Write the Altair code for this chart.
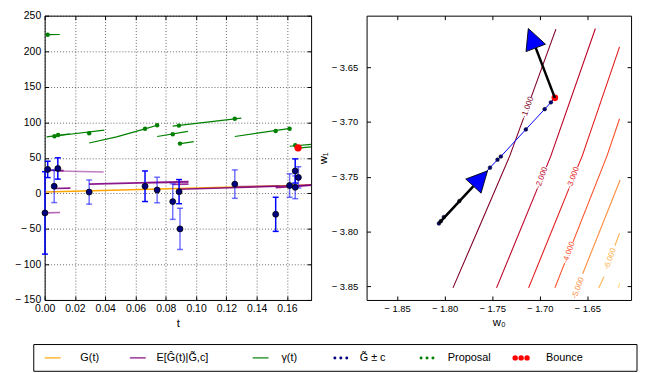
import math
import altair as alt
import pandas as pd

FONT = "Liberation Sans"

# ----------------------------- left panel data -----------------------------
# noisy gradient estimates G~ (with half-width c of the error bar)
obs_t = [0.0002, 0.0020, 0.0063, 0.0087, 0.0294, 0.0663, 0.0743, 0.0846,
         0.0888, 0.0894, 0.1256, 0.1526, 0.1618, 0.1655, 0.1655, 0.1676]
obs_v = [-27.5, 33.7, 10.0, 35.0, 1.8, 10.0, 4.7, -11.6,
         2.4, -50.0, 13.0, -29.5, 11.0, 31.5, 8.5, 22.4]
obs_c = [58.0, 11.5, 23.0, 15.0, 17.0, 21.5, 18.0, 25.0,
         17.0, 29.0, 20.0, 24.0, 16.5, 17.0, 16.0, 15.0]
obs_alpha = [1.0, 1.0, 0.55, 1.0, 0.55, 1.0, 0.55, 0.55,
             1.0, 0.55, 0.55, 1.0, 0.55, 1.0, 0.55, 0.55]

# true gradient G(t)
true_t = [0.0, 0.044, 0.088, 0.132, 0.176]
true_v = [1.8, 4.3, 6.8, 9.3, 11.8]

# posterior means E[G^(t)|G~,c], one straight piece each
post_t0 = [0.0000, 0.0020, 0.0087, 0.0063, 0.0294, 0.0663, 0.0846, 0.0888, 0.1256, 0.1526, 0.1618]
post_t1 = [0.0102, 0.0125, 0.0390, 0.0170, 0.0950, 0.0950, 0.0950, 0.1760, 0.1550, 0.1760, 0.1760]
post_v0 = [-27.5, 32.5, 31.5, 6.8, 13.0, 15.0, 12.5, 5.8, 9.5, 7.8, 10.0]
post_v1 = [-27.0, 32.0, 30.0, 7.4, 16.5, 15.5, 13.0, 11.3, 10.5, 11.5, 12.0]
post_alpha = [0.6, 0.9, 0.5, 0.9, 0.9, 0.5, 0.8, 0.9, 0.5, 0.9, 0.6]

# bound gamma(t), piecewise
gam_piece = [0, 0, 1, 1, 2, 2, 3, 3, 3, 3, 4, 4, 5, 5, 6, 6, 7, 7, 8, 8, 9, 9]
gam_t = [0.0020, 0.0100, 0.0013, 0.0166, 0.0083, 0.0394, 0.0294, 0.0475, 0.0663, 0.0743,
         0.0743, 0.0946, 0.0846, 0.1299, 0.0887, 0.0985, 0.1256, 0.1622, 0.1618, 0.1760,
         0.1655, 0.1760]
gam_v = [223.2, 223.5, 79.5, 83.6, 81.0, 89.0, 70.8, 79.5, 90.8, 95.8,
         80.0, 87.2, 94.5, 105.8, 69.5, 72.7, 80.0, 91.3, 66.3, 69.0,
         63.2, 65.4]

# proposals and the accepted bounce
prop_t = [0.0020, 0.0065, 0.0089, 0.0294, 0.0663, 0.0743, 0.0846, 0.0887, 0.0894,
          0.1256, 0.1526, 0.1618, 0.1655]
prop_v = [223.2, 80.4, 82.2, 84.5, 90.8, 95.8, 83.1, 95.3, 70.0,
          104.9, 87.7, 90.8, 67.7]
bounce_t = [0.1674]
bounce_v = [64.0]

# ----------------------------- right panel data ----------------------------
contour_levels = [-1, -1, -2, -2, -3, -3, -4, -4, -5, -6, -6, -7]
contour_w0 = [
    [-1.7912, -1.7620, -1.7315, -1.7170],
    [-1.7089, -1.6830],
    [-1.7454, -1.7024],
    [-1.6931, -1.6883, -1.6415],
    [-1.7117, -1.6692],
    [-1.6602, -1.6553, -1.6161],
    [-1.6841, -1.6738],
    [-1.6650, -1.6293, -1.6161],
    [-1.6548, -1.6155],
    [-1.6380, -1.6324],
    [-1.6210, -1.6161],
    [-1.6172, -1.6161],
]
contour_w1 = [
    [-3.8514, -3.7926, -3.7309, -3.6965],
    [-3.6771, -3.6153],
    [-3.8514, -3.7606],
    [-3.7412, -3.7309, -3.6147],
    [-3.8514, -3.7606],
    [-3.7412, -3.7309, -3.6315],
    [-3.8514, -3.8288],
    [-3.8094, -3.7309, -3.6971],
    [-3.8385, -3.7529],
    [-3.8514, -3.8411],
    [-3.8129, -3.8014],
    [-3.8514, -3.8470],
]
label_levels = [-1, -2, -3, -4, -5, -6]
label_w0 = [-1.7125, -1.6979, -1.6647, -1.6691, -1.6595, -1.6259]
label_w1 = [-3.6868, -3.7510, -3.7509, -3.8191, -3.8516, -3.8250]
level_list = [-1, -2, -3, -4, -5, -6, -7]
level_colors = ["#800026", "#bd0026", "#e31a1c", "#fc4e2a", "#fd8d3c", "#feb24c", "#fed976"]

traj_w0 = [-1.8060, -1.8040, -1.8008, -1.7845, -1.7523, -1.7444, -1.7409,
           -1.7146, -1.6948, -1.6883, -1.6841]
traj_w1 = [-3.7926, -3.7905, -3.7867, -3.7721, -3.7417, -3.7344, -3.7315,
           -3.7068, -3.6883, -3.6821, -3.6780]
rbounce_w0 = [-1.6841]
rbounce_w1 = [-3.6780]
arrow_w0_from = [-1.8060, -1.6841]
arrow_w1_from = [-3.7926, -3.6780]
arrow_w0_to = [-1.7697, -1.7042]
arrow_w1_to = [-3.7585, -3.6324]

# ----------------------------- legend ---------------------------------------
leg_labels = ["G(t)", "E[Ĝ(t)|G̃,c]", "γ(t)", "G̃ ± c", "Proposal", "Bounce"]
leg_colors = ["#ffa500", "#800080", "#008000", "#000080", "#008000", "#ff0000"]
leg_kind = ["line", "line", "line", "dots", "dots", "bigdots"]

# ----------------------------- layout / style -------------------------------
W_L, W_R, H = 269, 267, 287
T_DOM = [0.0, 0.176]
V_DOM = [-150, 250]
W0_DOM = [-1.882, -1.604]
W1_DOM = [-3.8624, -3.603]

# legend box geometry (pixels inside the box); the box starts LEG_SHIFT px left of the panels
LEG_W, LEG_H, LEG_SHIFT = 609, 27, 11
LEG_HANDLE_X = [11, 97, 221, 302, 389, 484]   # left end of each handle
LEG_HANDLE_LEN = 16
LEG_TEXT_X = [47, 124, 250, 329, 418, 517]

MINUS_INT = "datum.value < 0 ? '\u2212 ' + format(-datum.value, 'd') : format(datum.value, 'd')"
MINUS_2F = "datum.value < 0 ? '\u2212 ' + format(-datum.value, '.2f') : format(datum.value, '.2f')"

TICKS = dict(domain=False, tickSize=4, offset=-4, tickColor="black", tickWidth=1)


def ax_main(orient, values, expr, title, grid, size=10.5, pad=4):
    return alt.Axis(orient=orient, values=values, labelExpr=expr, title=title, grid=grid,
                    gridColor="black", gridDash=[1, 2], gridOpacity=0.75, gridWidth=0.8,
                    titlePadding=3, labelOverlap=False, labelFlush=False,
                    labelFont=FONT, labelFontSize=size, labelColor="black", labelPadding=pad,
                    titleFont=FONT, titleFontSize=11.5, titleFontWeight="normal",
                    titleColor="black", **TICKS)


def ax_side(orient, values):
    return alt.Axis(orient=orient, values=values, labels=False, title=None, grid=False, **TICKS)


t_vals = [0.0, 0.02, 0.04, 0.06, 0.08, 0.10, 0.12, 0.14, 0.16]
v_vals = [-150, -100, -50, 0, 50, 100, 150, 200, 250]
w0_vals = [-1.85, -1.80, -1.75, -1.70, -1.65]
w1_vals = [-3.85, -3.80, -3.75, -3.70, -3.65]

tsc = alt.Scale(domain=T_DOM, nice=False, zero=False)
vsc = alt.Scale(domain=V_DOM, nice=False, zero=False)
w0sc = alt.Scale(domain=W0_DOM, nice=False, zero=False)
w1sc = alt.Scale(domain=W1_DOM, nice=False, zero=False)

# ----------------------------- left panel -----------------------------------
obs_df = pd.DataFrame({"t": obs_t, "v": obs_v, "a": obs_alpha,
                       "lo": [v - c for v, c in zip(obs_v, obs_c)],
                       "hi": [v + c for v, c in zip(obs_v, obs_c)]})
caps_df = pd.DataFrame({"t": obs_t + obs_t, "y": list(obs_df["lo"]) + list(obs_df["hi"]),
                        "a": obs_alpha + obs_alpha})
true_df = pd.DataFrame({"t": true_t, "v": true_v})
post_rows = []
for i in range(len(post_t0)):
    post_rows.append({"p": i, "k": 0, "t": post_t0[i], "v": post_v0[i], "a": post_alpha[i]})
    post_rows.append({"p": i, "k": 1, "t": post_t1[i], "v": post_v1[i], "a": post_alpha[i]})
post_df = pd.DataFrame(post_rows)
gam_df = pd.DataFrame({"p": gam_piece, "k": list(range(len(gam_t))), "t": gam_t, "v": gam_v})
prop_df = pd.DataFrame({"t": prop_t, "v": prop_v})
bounce_df = pd.DataFrame({"t": bounce_t, "v": bounce_v})

X0 = alt.X("t:Q", scale=tsc, axis=None)
Y0 = alt.Y("v:Q", scale=vsc, axis=None)

l_true = alt.Chart(true_df).mark_line(color="#ffa500", strokeWidth=1.5, clip=True).encode(
    x=alt.X("t:Q", scale=tsc, axis=ax_side("top", t_vals)),
    y=alt.Y("v:Q", scale=vsc, axis=ax_side("right", v_vals)))
l_post = alt.Chart(post_df).mark_line(color="#800080", strokeWidth=1.6, clip=True).encode(
    x=X0, y=Y0, detail="p:N", order="k:Q", opacity=alt.Opacity("a:Q", scale=None))
l_gam = alt.Chart(gam_df).mark_line(color="#008000", strokeWidth=1.2, clip=True).encode(
    x=X0, y=Y0, detail="p:N", order="k:Q")
l_prop = alt.Chart(prop_df).mark_circle(color="#008000", size=20, opacity=1).encode(x=X0, y=Y0)
l_err = alt.Chart(obs_df).mark_rule(color="#0000ff", strokeWidth=1.5).encode(
    x=X0, y=alt.Y("lo:Q", scale=vsc, axis=None), y2="hi:Q", opacity=alt.Opacity("a:Q", scale=None))
l_caps = alt.Chart(caps_df).mark_tick(color="#0000ff", orient="horizontal", size=6, thickness=1.5).encode(
    x=X0, y=alt.Y("y:Q", scale=vsc, axis=None), opacity=alt.Opacity("a:Q", scale=None))
l_obs = alt.Chart(obs_df).mark_circle(size=36, fill="#000080", stroke="black", strokeWidth=0.8,
                                      opacity=1).encode(
    x=alt.X("t:Q", scale=tsc, axis=ax_main("bottom", t_vals, "format(datum.value, '.2f')", "t", True)),
    y=alt.Y("v:Q", scale=vsc, axis=ax_main("left", v_vals, MINUS_INT, None, True)))
l_bounce = alt.Chart(bounce_df).mark_circle(color="#ff0000", size=55, opacity=1).encode(x=X0, y=Y0)

left = alt.layer(l_true, l_post, l_gam, l_prop, l_err, l_caps, l_obs, l_bounce).properties(
    width=W_L, height=H, view=alt.ViewBackground(stroke="black", strokeWidth=1))

# ----------------------------- right panel ----------------------------------
c_rows = []
for i, lvl in enumerate(contour_levels):
    for k, (a, b) in enumerate(zip(contour_w0[i], contour_w1[i])):
        c_rows.append({"piece": i, "k": k, "lvl": lvl, "w0": a, "w1": b})
cont_df = pd.DataFrame(c_rows)
lab_df = pd.DataFrame({"lvl": label_levels, "w0": label_w0, "w1": label_w1,
                       "txt": [f"{l:.3f}" for l in label_levels]})
traj_df = pd.DataFrame({"k": list(range(len(traj_w0))), "w0": traj_w0, "w1": traj_w1})
dots_df = traj_df.iloc[:-1]
rb_df = pd.DataFrame({"w0": rbounce_w0, "w1": rbounce_w1})


def to_px(a, b):
    return ((a - W0_DOM[0]) / (W0_DOM[1] - W0_DOM[0]) * W_R,
            (W1_DOM[1] - b) / (W1_DOM[1] - W1_DOM[0]) * H)


def from_px(px, py):
    return (W0_DOM[0] + px / W_R * (W0_DOM[1] - W0_DOM[0]),
            W1_DOM[1] - py / H * (W1_DOM[1] - W1_DOM[0]))


HEAD = 21
head_rows = []
for i in range(len(arrow_w0_from)):
    x0, y0 = to_px(arrow_w0_from[i], arrow_w1_from[i])
    x1, y1 = to_px(arrow_w0_to[i], arrow_w1_to[i])
    L = math.hypot(x1 - x0, y1 - y0)
    ux, uy = (x1 - x0) / L, (y1 - y0) / L
    cw0, cw1 = from_px(x1 + ux * HEAD / 2, y1 + uy * HEAD / 2)
    head_rows.append({"w0": cw0, "w1": cw1, "ang": math.degrees(math.atan2(ux, -uy)) % 360})
head_df = pd.DataFrame(head_rows)
shaft_df = pd.DataFrame({"w0": arrow_w0_from, "w1": arrow_w1_from, "w0b": arrow_w0_to, "w1b": arrow_w1_to})

XR = alt.X("w0:Q", scale=w0sc, axis=None)
YR = alt.Y("w1:Q", scale=w1sc, axis=None)
lvl_color = alt.Color("lvl:O", scale=alt.Scale(domain=level_list, range=level_colors), legend=None)

r_cont = alt.Chart(cont_df).mark_line(strokeWidth=1.1, clip=True).encode(
    x=alt.X("w0:Q", scale=w0sc, axis=ax_side("top", w0_vals)),
    y=alt.Y("w1:Q", scale=w1sc, axis=ax_side("right", w1_vals)),
    detail="piece:N", order="k:Q", color=lvl_color)
r_lab = alt.Chart(lab_df).mark_text(angle=290, font=FONT, fontSize=8).encode(
    x=XR, y=YR, text="txt:N", color=lvl_color)
r_traj = alt.Chart(traj_df).mark_line(color="#0000ff", strokeWidth=1).encode(x=XR, y=YR, order="k:Q")
r_dots = alt.Chart(dots_df).mark_circle(size=14, fill="#000080", stroke="black", strokeWidth=0.5,
                                        opacity=1).encode(
    x=alt.X("w0:Q", scale=w0sc, axis=ax_main("bottom", w0_vals, MINUS_2F, "w\u2080", False, 9.5, 4)),
    y=alt.Y("w1:Q", scale=w1sc, axis=ax_main("left", w1_vals, MINUS_2F, "w\u2081", False, 9.5, 9)))
r_rb = alt.Chart(rb_df).mark_circle(color="#ff0000", size=45, opacity=1).encode(x=XR, y=YR)
r_shaft = alt.Chart(shaft_df).mark_rule(color="black", strokeWidth=2.5).encode(
    x=XR, y=YR, x2="w0b:Q", y2="w1b:Q")
r_head = alt.Chart(head_df).mark_point(shape="M0,-1L1,1L-1,1Z", filled=True, fill="#0000ff",
                                       stroke="black", strokeWidth=0.8, size=HEAD * HEAD,
                                       opacity=1).encode(
    x=XR, y=YR, angle=alt.Angle("ang:Q", scale=None))

right = alt.layer(r_cont, r_lab, r_traj, r_dots, r_rb, r_shaft, r_head).properties(
    width=W_R, height=H, view=alt.ViewBackground(stroke="black", strokeWidth=1))

# ----------------------------- legend box ------------------------------------
line_rows, dot_rows, text_rows = [], [], []
for i, (lab, col, kind) in enumerate(zip(leg_labels, leg_colors, leg_kind)):
    x0 = LEG_HANDLE_X[i]
    text_rows.append({"x": LEG_TEXT_X[i], "y": LEG_H / 2, "txt": lab})
    if kind == "line":
        line_rows.append({"x": x0, "x2": x0 + LEG_HANDLE_LEN, "y": LEG_H / 2, "c": col})
    else:
        for j in range(3):
            dot_rows.append({"x": x0 + 2 + j * (LEG_HANDLE_LEN - 4) / 2, "y": LEG_H / 2, "c": col,
                             "s": 30 if kind == "bigdots" else 9})
box_df = pd.DataFrame({"x": [0], "x2": [LEG_W], "y": [0], "y2": [LEG_H]})
lx = alt.Scale(domain=[LEG_SHIFT, LEG_W], nice=False, zero=False)
ly = alt.Scale(domain=[LEG_H, 0], nice=False, zero=False)
g_box = alt.Chart(box_df).mark_rect(fill="white", stroke="black", strokeWidth=1).encode(
    x=alt.X("x:Q", scale=lx, axis=None), x2="x2:Q",
    y=alt.Y("y:Q", scale=ly, axis=None), y2="y2:Q")
g_lines = alt.Chart(pd.DataFrame(line_rows)).mark_rule(strokeWidth=1.2).encode(
    x=alt.X("x:Q", scale=lx, axis=None), x2="x2:Q",
    y=alt.Y("y:Q", scale=ly, axis=None), color=alt.Color("c:N", scale=None))
g_dots = alt.Chart(pd.DataFrame(dot_rows)).mark_circle(opacity=1).encode(
    x=alt.X("x:Q", scale=lx, axis=None), y=alt.Y("y:Q", scale=ly, axis=None),
    color=alt.Color("c:N", scale=None), size=alt.Size("s:Q", scale=None))
g_text = alt.Chart(pd.DataFrame(text_rows)).mark_text(
    align="left", baseline="middle", font=FONT, fontSize=11, color="black").encode(
    x=alt.X("x:Q", scale=lx, axis=None), y=alt.Y("y:Q", scale=ly, axis=None), text="txt:N")
legend_chart = alt.layer(g_box, g_lines, g_dots, g_text).properties(
    width=LEG_W - LEG_SHIFT, height=LEG_H, view=alt.ViewBackground(stroke="transparent"))

chart = alt.vconcat(
    alt.hconcat(left, right, spacing=4),
    legend_chart, spacing=14,
).properties(padding={"left": 5, "top": 0, "right": 0, "bottom": 0}).configure(
    font=FONT).configure_view(stroke="transparent")

chart.save("out.html", embed_options={"renderer": "svg", "actions": False})
